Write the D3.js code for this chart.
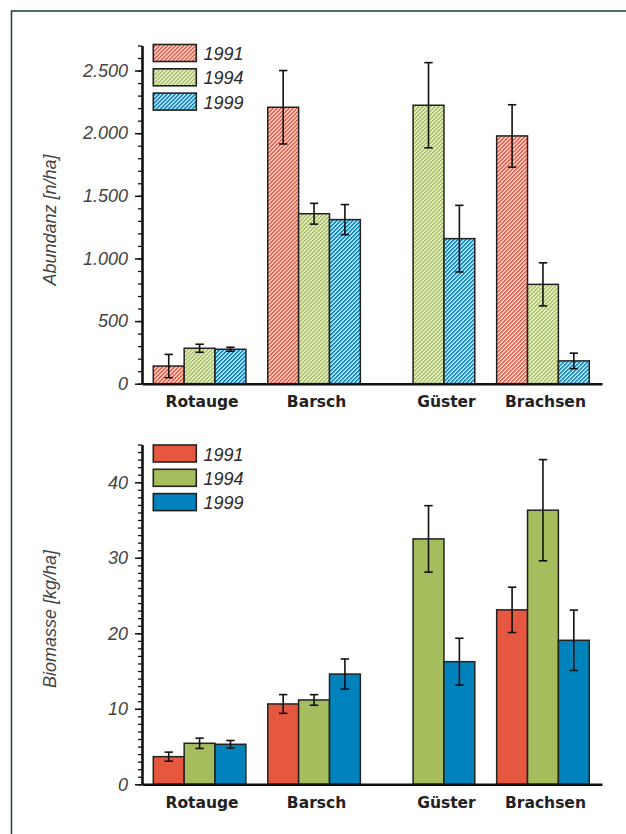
<!DOCTYPE html>
<html><head><meta charset="utf-8">
<script src="https://cdn.jsdelivr.net/npm/d3@7"></script>
<style>body{margin:0;background:#fff} svg{display:block}</style>
</head><body>
<svg id="c" width="626" height="834"></svg>
<script>
// ---- data ----
const groups = ["Rotauge", "Barsch", "Güster", "Brachsen"];
const years = ["1991", "1994", "1999"];

const abund1991 = [141, 2207, null, 1978];
const abund1994 = [283, 1357, 2223, 793];
const abund1999 = [275, 1310, 1158, 182];
const abundErr1991 = [93, 293, null, 249];
const abundErr1994 = [32, 83, 340, 172];
const abundErr1999 = [16, 120, 266, 62];

const bio1991 = [3.66, 10.64, null, 23.1];
const bio1994 = [5.43, 11.17, 32.5, 36.3];
const bio1999 = [5.3, 14.6, 16.24, 19.07];
const bioErr1991 = [0.6, 1.24, null, 3.0];
const bioErr1994 = [0.68, 0.7, 4.4, 6.7];
const bioErr1999 = [0.5, 2.0, 3.1, 4.0];

const abundTicks = [0, 500, 1000, 1500, 2000, 2500];
const abundTickLabels = ["0", "500", "1.000", "1.500", "2.000", "2.500"];
const bioTicks = [0, 10, 20, 30, 40];
const bioTickLabels = ["0", "10", "20", "30", "40"];

const colors = ["#e5573f", "#a5bd5c", "#0082bc"];

// ---- setup ----
const svg = d3.select("#c");
const defs = svg.append("defs");
colors.forEach((c, i) => {
  const w = 2.83;
  const p = defs.append("pattern").attr("id", "h" + i)
    .attr("patternUnits", "userSpaceOnUse")
    .attr("width", w).attr("height", w)
    .attr("patternTransform", "rotate(45)");
  p.append("rect").attr("width", w).attr("height", w).attr("fill", "#fff");
  p.append("rect").attr("width", 1.65).attr("height", w).attr("fill", c);
});

// frame
svg.append("path").attr("d", "M11.5,834 V11 H626")
  .attr("fill", "none").attr("stroke", "#17452b").attr("stroke-width", 1.5);

const x0 = d3.scaleBand().domain(groups).range([142, 602])
  .paddingInner(0.191).paddingOuter(0.105).align(0.47);
const x1 = d3.scaleBand().domain(years).range([0, x0.bandwidth()]);

function panel(o) {
  const g = svg.append("g");
  const y = d3.scaleLinear().domain([0, o.max]).range([o.y0, o.y1]);
  const minor = d3.range(0, o.max + o.minorStep / 2, o.minorStep);

  // minor ticks
  g.append("g").attr("transform", "translate(142,0)")
    .call(d3.axisLeft(y).tickValues(minor).tickSize(4).tickFormat("").tickSizeOuter(0))
    .call(a => a.selectAll("line").attr("stroke", "#111").attr("stroke-width", 1.3))
    .call(a => a.select(".domain").remove());
  // major ticks + labels
  g.append("g").attr("transform", "translate(142,0)")
    .call(d3.axisLeft(y).tickValues(o.ticks).tickSize(7).tickPadding(7)
      .tickFormat((d, i) => o.labels[i]).tickSizeOuter(0))
    .call(a => a.selectAll("line").attr("stroke", "#111").attr("stroke-width", 1.5))
    .call(a => a.select(".domain").attr("stroke", "#111").attr("stroke-width", 2.6))
    .call(a => a.selectAll("text").attr("font-family", "Liberation Sans, Arial, sans-serif")
      .attr("font-style", "italic").attr("font-size", 18).attr("fill", "#444"));

  // bars
  const series = o.series;
  groups.forEach((grp, gi) => {
    series.forEach((s, si) => {
      const v = s.values[gi];
      if (v == null) return;
      const bx = x0(grp) + x1(years[si]);
      g.append("rect").attr("x", bx).attr("y", y(v))
        .attr("width", x1.bandwidth()).attr("height", y(0) - y(v))
        .attr("fill", o.hatched ? `url(#h${si})` : colors[si])
        .attr("stroke", "#222").attr("stroke-width", 1.5);
    });
  });
  // error bars
  groups.forEach((grp, gi) => {
    series.forEach((s, si) => {
      const v = s.values[gi], e = s.err[gi];
      if (v == null) return;
      const cx = x0(grp) + x1(years[si]) + x1.bandwidth() / 2;
      const eg = g.append("g").attr("stroke", "#111").attr("stroke-width", 1.6);
      eg.append("line").attr("x1", cx).attr("x2", cx).attr("y1", y(v - e)).attr("y2", y(v + e));
      [v - e, v + e].forEach(t => eg.append("line").attr("x1", cx - 4.2).attr("x2", cx + 4.2)
        .attr("y1", y(t)).attr("y2", y(t)));
    });
  });

  // x axis
  g.append("g").attr("transform", `translate(0,${y(0)})`)
    .call(d3.axisBottom(x0).tickValues([]).tickSizeOuter(0))
    .call(a => a.select(".domain").attr("stroke", "#111").attr("stroke-width", 2.6));

  // category labels
  groups.forEach((grp, gi) => {
    const present = series.map((s, si) => s.values[gi] != null ? si : null).filter(d => d != null);
    const cs = present.map(si => x0(grp) + x1(years[si]) + x1.bandwidth() / 2);
    const cx = d3.mean(cs) + 2.5;
    g.append("text").attr("x", cx).attr("y", o.labelY).attr("text-anchor", "middle")
      .attr("font-family", "DejaVu Sans, sans-serif").attr("font-weight", "bold")
      .attr("font-size", 15.5).attr("fill", "#222").text(grp);
  });

  // y title
  g.append("text").attr("transform", `translate(56,${o.titleY}) rotate(-90)`)
    .attr("text-anchor", "middle").attr("font-family", "Liberation Sans, Arial, sans-serif")
    .attr("font-style", "italic").attr("font-size", 18).attr("fill", "#444").text(o.title);

  // legend
  years.forEach((yr, i) => {
    const ly = o.legendTop + i * 24.3;
    g.append("rect").attr("x", 153.3).attr("y", ly).attr("width", 43).attr("height", 17)
      .attr("fill", o.hatched ? `url(#h${i})` : colors[i])
      .attr("stroke", "#222").attr("stroke-width", 1.6);
    g.append("text").attr("x", 203.5).attr("y", ly + 15.5)
      .attr("font-family", "Liberation Sans, Arial, sans-serif").attr("font-style", "italic")
      .attr("font-size", 18).attr("fill", "#2a2a2a").text(yr);
  });
}

panel({
  max: 2700, y0: 383.7, y1: 45.5, minorStep: 100,
  ticks: abundTicks, labels: abundTickLabels,
  series: [
    { values: abund1991, err: abundErr1991 },
    { values: abund1994, err: abundErr1994 },
    { values: abund1999, err: abundErr1999 }
  ],
  hatched: true, labelY: 406.5, title: "Abundanz [n/ha]", titleY: 220, legendTop: 44.5
});

panel({
  max: 45, y0: 784.3, y1: 444.5, minorStep: 1,
  ticks: bioTicks, labels: bioTickLabels,
  series: [
    { values: bio1991, err: bioErr1991 },
    { values: bio1994, err: bioErr1994 },
    { values: bio1999, err: bioErr1999 }
  ],
  hatched: false, labelY: 808.3, title: "Biomasse [kg/ha]", titleY: 619, legendTop: 445
});
</script>
</body></html>
